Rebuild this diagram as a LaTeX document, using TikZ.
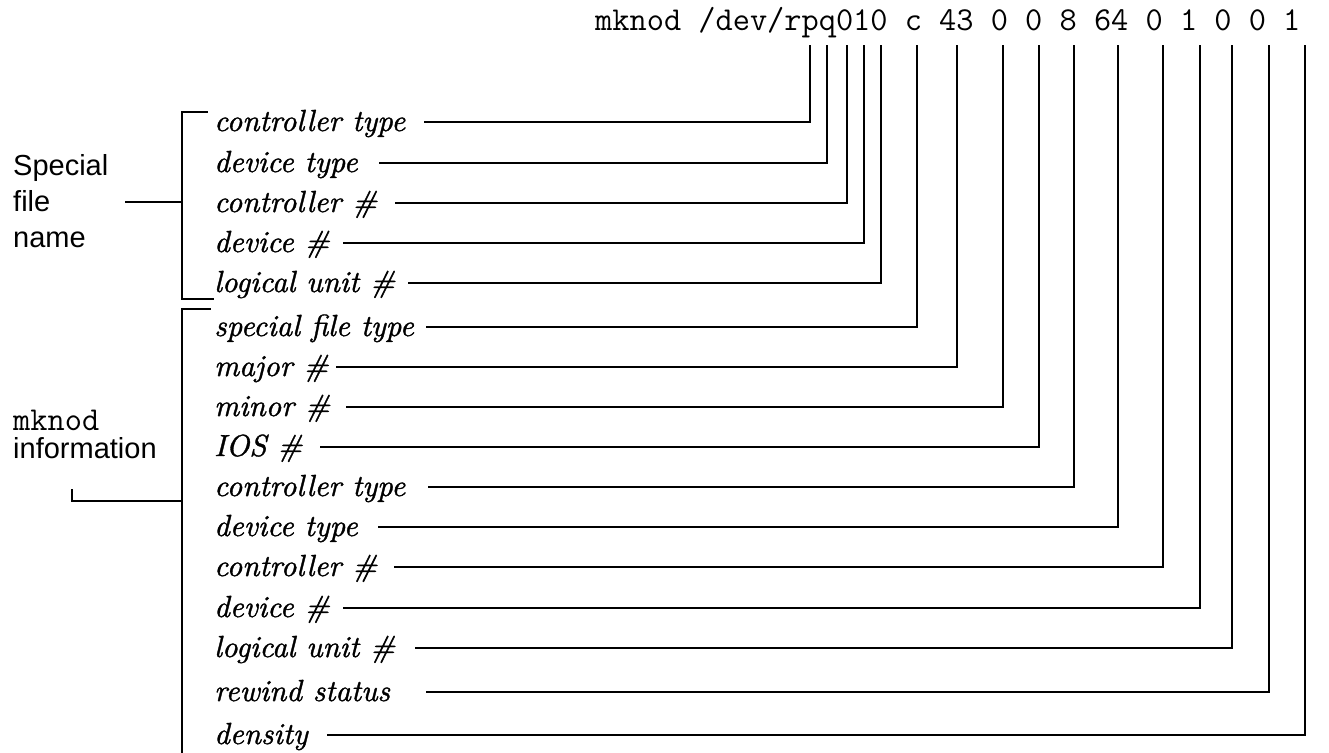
\documentclass[tikz,border=0pt]{standalone}
\usepackage{fontspec}
\setsansfont{Liberation Sans}
\newfontfamily\labfont{lmroman10-italic.otf}[FakeBold=1.2]
\begin{document}
\begin{tikzpicture}[x=1pt,y=-1pt]
\tikzset{
  lab/.style={anchor=base west, inner sep=0pt, font=\fontsize{30.5}{32}\labfont},
  side/.style={anchor=base west, inner sep=0pt, font=\fontsize{29}{32}\selectfont\sffamily},
  mono/.style={anchor=base west, inner sep=0pt, font=\fontsize{33.4}{34}\selectfont\ttfamily},
  wire/.style={line width=1.5pt, line cap=rect},
}
\useasboundingbox (0,0) rectangle (1329,752);
\node[mono] (cmd) at (595,31) {mknod /dev/rpq010 c 43 0 0 8 64 0 1 0 0 1};
\foreach \i/\t/\y/\g/\c in {
  1/controller type/122/19/810,
  2/device type/163/22/827,
  3/controller \#/203/18/847,
  4/device \#/243/14/864,
  5/logical unit \#/283/13/881,
  6/special file type/327/13/917,
  7/major \#/367/8/957,
  8/minor \#/407/17/1003,
  9/IOS \#/447/18/1039,
  10/controller type/487/23/1074,
  11/device type/527/21/1118,
  12/controller \#/567/17/1163,
  13/device \#/608/14/1200,
  14/logical unit \#/648/20/1232,
  15/rewind status/692/37/1269,
  16/density/735/20/1305}{
  \node[lab] (r\i) at (214,\y+9) {\t};
  \coordinate (k\i) at (\c,46);
  \draw[wire] ([shift={(\g,-9)}]r\i.base east) -| (k\i);
}
% Special file name group
\node[side] (sp1) at (13,175) {Special};
\node[side] (sp2) at (13,211) {file};
\node[side] (sp3) at (13,247) {name};
\coordinate (b1a) at (207,112);
\coordinate (b1b) at (182,112);
\coordinate (b1c) at (182,299);
\coordinate (b1d) at (213,299);
\coordinate (b1m) at (182,202);
\coordinate (sfn) at (126,202);
\draw[wire] (b1a) -- (b1b) -- (b1c) -- (b1d);
\draw[wire] (sfn) -- (b1m);
% mknod information group
\node[mono] (mk1) at (13,430) {mknod};
\node[side] (mk2) at (13,458) {information};
\coordinate (b2a) at (210,309);
\coordinate (b2b) at (182,309);
\coordinate (b2c) at (182,752);
\coordinate (b2m) at (182,501);
\coordinate (mki) at (72,490);
\draw[wire] (b2a) -- (b2b) -- (b2c);
\draw[wire] (mki) |- (b2m);
\end{tikzpicture}
\end{document}
